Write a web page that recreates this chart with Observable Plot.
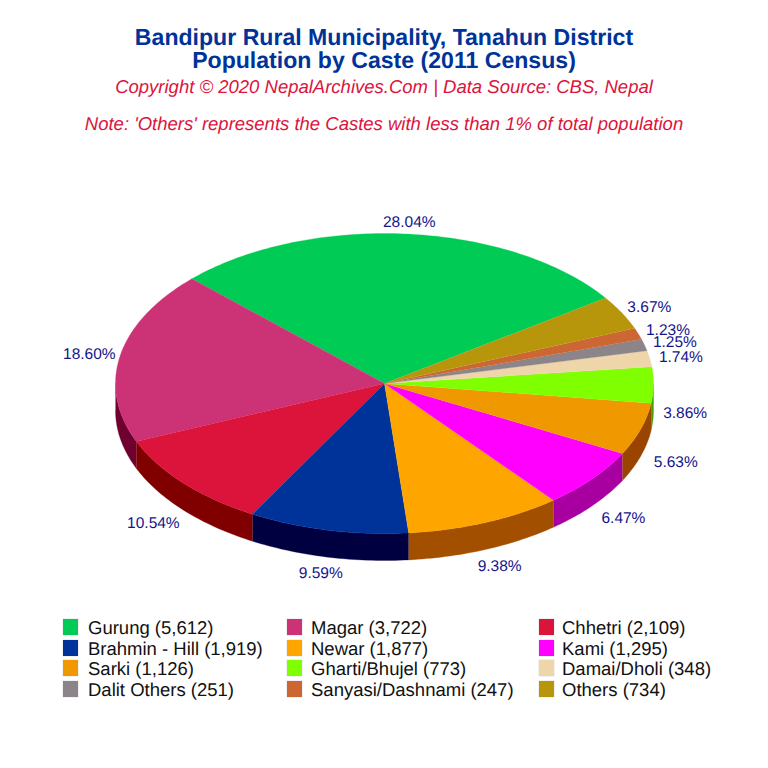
<!DOCTYPE html>
<html><head><meta charset="utf-8">
<script src="https://cdn.jsdelivr.net/npm/d3@7"></script>
<script src="https://cdn.jsdelivr.net/npm/@observablehq/plot@0.6"></script>
<style>
html,body{margin:0;padding:0;background:#fff;width:768px;height:768px;overflow:hidden;font-family:"Liberation Sans",Arial,sans-serif;text-rendering:geometricPrecision}
#wrap{position:relative;width:768px;height:768px}
.t{position:absolute;left:0;width:768px;text-align:center;white-space:nowrap}
.title{font-weight:bold;font-size:23.1px;line-height:23px;color:#003399}
.sub{font-style:italic;font-size:18.5px;line-height:22px;color:#DC143C}
.li{position:absolute;font-size:18.5px;line-height:21px;white-space:nowrap;color:#111}
.sw{position:absolute;width:15px;height:16px;box-shadow:0 0 1px #aaa}
#chart{position:absolute;left:0;top:135px}
svg{display:block;text-rendering:geometricPrecision}
</style></head><body>
<div id="wrap">
<div class="t title" style="top:26px">Bandipur Rural Municipality, Tanahun District</div>
<div class="t title" style="top:49px">Population by Caste (2011 Census)</div>
<div class="t sub" style="top:76px">Copyright © 2020 NepalArchives.Com | Data Source: CBS, Nepal</div>
<div class="t sub" style="top:113px">Note: 'Others' represents the Castes with less than 1% of total population</div>
<div id="chart"></div>
</div>
<script>
const castes = ["Gurung","Magar","Chhetri","Brahmin - Hill","Newar","Kami","Sarki","Gharti/Bhujel","Damai/Dholi","Dalit Others","Sanyasi/Dashnami","Others"];
const population = [5612,3722,2109,1919,1877,1295,1126,773,348,251,247,734];
const topColors = ["#00CC55","#CC3377","#DC143C","#003399","#FFA500","#FF00FF","#F09800","#7FFF00","#EED5AA","#8B8589","#CC6633","#B8960C"];
const sideColors = ["#006633","#700030","#800000","#000040","#A34F00","#A800A0","#994500","#3F9F00","#8F7A55","#4A4648","#803D1A","#6B5500"];

const W = 768, H = 470, RX = 269, CX = 384, CY = 248;   // pixel frame of the SVG
const tilt = 150 / 269, depth = 27 / 269;               // ellipse ratio, wall height (radius units)
const startDeg = 55.2;                                  // slices run counter-clockwise from here
const total = d3.sum(population);
const rad = d => d * Math.PI / 180;
const px = a => Math.sin(rad(a));
const py = a => Math.cos(rad(a)) * tilt;

let cursor = startDeg;
const slices = castes.map((name, i) => {
  const span = population[i] / total * 360;
  const s = {name, i, from: cursor, to: cursor - span, mid: cursor - span / 2, share: population[i] / total};
  cursor -= span;
  return s;
});

const arc = (a, b) => {
  const n = Math.max(2, Math.ceil(Math.abs(a - b)));
  return d3.range(n + 1).map(k => a + (b - a) * k / n);
};

const tops = slices.flatMap(s => [
  {k: s.i, x: 0, y: 0, c: topColors[s.i]},
  ...arc(s.from, s.to).map(a => ({k: s.i, x: px(a), y: py(a), c: topColors[s.i]}))
]);

// outer wall: only the part of each slice's rim in the lower half of the ellipse
const walls = slices.flatMap(s => {
  const hi = s.from, lo = s.to;
  const pts = [];
  for (const base of [-360, 0]) {           // lower half = 90..270 (mod 360)
    const a = Math.min(hi, base + 270), b = Math.max(lo, base + 90);
    if (a > b) pts.push([a, b]);
  }
  return pts.flatMap(([a, b], j) => {
    const rim = arc(a, b);
    const k = s.i + "-" + j;
    return [
      ...rim.map(t => ({k, x: px(t), y: py(t), c: sideColors[s.i]})),
      ...rim.slice().reverse().map(t => ({k, x: px(t), y: py(t) - depth, c: sideColors[s.i]}))
    ];
  });
});

const labels = slices.map(s => {
  const below = Math.cos(rad(s.mid)) < 0;
  const push = below ? 1 + 0.03 * Math.abs(Math.sin(rad(2 * s.mid))) : 1;
  return {
    x: px(s.mid) * 1.117 * push,
    y: py(s.mid) * 1.09 * push - (below ? depth : 0),
    t: (s.share * 100).toFixed(2) + "%"
  };
});

const chart = Plot.plot({
  width: W, height: H,
  margin: 0,
  x: {domain: [-CX / RX, (W - CX) / RX], range: [0, W], axis: null},
  y: {domain: [-(H - CY) / RX, CY / RX], range: [H, 0], axis: null},
  style: {background: "transparent"},
  marks: [
    Plot.line(walls, {x: "x", y: "y", z: "k", fill: "c", stroke: "c", strokeWidth: 0.3, curve: "linear"}),
    Plot.line(tops, {x: "x", y: "y", z: "k", fill: "c", stroke: "c", strokeWidth: 0.3, curve: "linear"}),
    Plot.text(labels, {x: "x", y: "y", dy: 1, text: "t", fill: "#14148C", fontSize: 15.5, fontFamily: "Liberation Sans, Arial, sans-serif"})
  ]
});
document.getElementById("chart").appendChild(chart);

// legend: three columns, four rows, filled row by row
const colText = [88, 311, 562], colSwatch = [63, 287, 539], rowTop = [617, 638, 658, 679];
const wrap = document.getElementById("wrap");
const fmt = d3.format(",");
castes.forEach((name, i) => {
  const c = i % 3, r = Math.floor(i / 3);
  const sw = document.createElement("div");
  sw.className = "sw";
  sw.style.cssText = `left:${colSwatch[c]}px;top:${rowTop[r] + 2}px;background:${topColors[i]}`;
  const li = document.createElement("div");
  li.className = "li";
  li.style.cssText = `left:${colText[c]}px;top:${rowTop[r]}px`;
  li.textContent = `${name} (${fmt(population[i])})`;
  wrap.append(sw, li);
});
</script>
</body></html>
